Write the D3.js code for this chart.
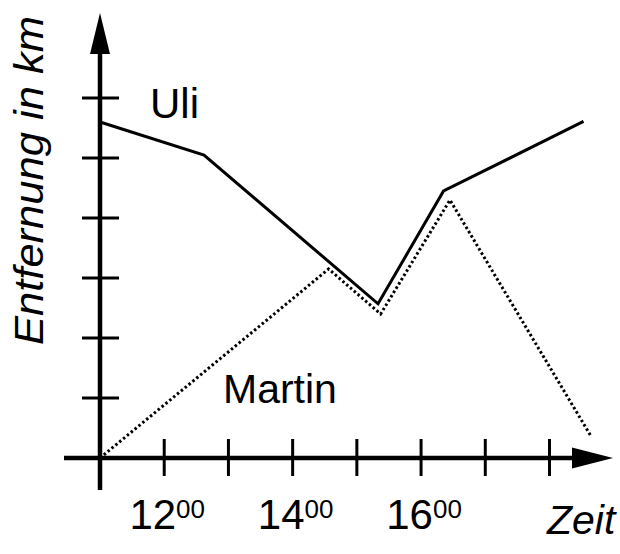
<!DOCTYPE html>
<html>
<head>
<meta charset="utf-8">
<script src="https://cdn.jsdelivr.net/npm/d3@7"></script>
<style>
  body { margin: 0; background: #fff; }
  text { font-family: "Liberation Sans", Arial, Helvetica, sans-serif; fill: #000; }
</style>
</head>
<body>
<svg id="chart" width="620" height="554"></svg>
<script>
// time in hours, distance in ticks
var uliTime = [11, 12.62, 15.33, 16.35, 18.53];
var uliDist = [5.6, 5.05, 2.57, 4.45, 5.61];
var martinTime = [11, 14.56, 15.37, 16.45, 18.64];
var martinDist = [0, 3.15, 2.4, 4.3, 0.375];
var xTicks = [12, 13, 14, 15, 16, 17, 18];
var yTicks = [1, 2, 3, 4, 5, 6];
var xLabels = [12, 14, 16];

var svg = d3.select("#chart");

var x = d3.scaleLinear().domain([11, 18]).range([100, 549.5]);
var y = d3.scaleLinear().domain([0, 6]).range([458, 98]);

var uli = uliTime.map(function (t, i) { return [t, uliDist[i]]; });
var martin = martinTime.map(function (t, i) { return [t, martinDist[i]]; });

// axes
svg.append("line")
  .attr("x1", 64).attr("x2", 575)
  .attr("y1", y(0)).attr("y2", y(0))
  .attr("stroke", "#000").attr("stroke-width", 4.5);
svg.append("line")
  .attr("x1", x(11)).attr("x2", x(11))
  .attr("y1", 490).attr("y2", 50)
  .attr("stroke", "#000").attr("stroke-width", 4.5);

// arrow heads
svg.append("path")
  .attr("d", "M572," + (y(0) - 10.5) + "L613," + y(0) + "L572," + (y(0) + 10.5) + "Z")
  .attr("fill", "#000");
svg.append("path")
  .attr("d", "M" + (x(11) - 10) + ",54L" + x(11) + ",13L" + (x(11) + 10) + ",54Z")
  .attr("fill", "#000");

// tick marks
svg.append("g").selectAll("line")
  .data(xTicks)
  .enter().append("line")
  .attr("x1", function (d) { return x(d); })
  .attr("x2", function (d) { return x(d); })
  .attr("y1", y(0) - 19).attr("y2", y(0) + 18)
  .attr("stroke", "#000").attr("stroke-width", 3);
svg.append("g").selectAll("line")
  .data(yTicks)
  .enter().append("line")
  .attr("x1", x(11) - 18).attr("x2", x(11) + 19)
  .attr("y1", function (d) { return y(d); })
  .attr("y2", function (d) { return y(d); })
  .attr("stroke", "#000").attr("stroke-width", 3);

// tick labels with superscript minutes
var lab = svg.append("g").selectAll("text")
  .data(xLabels)
  .enter().append("text")
  .attr("x", function (d) { return x(d) + 3; })
  .attr("y", 529)
  .attr("text-anchor", "middle")
  .style("font-size", "42px");
lab.append("tspan").text(function (d) { return d; });
lab.append("tspan").attr("dy", -11).style("font-size", "26px").text("00");

// lines
var line = d3.line()
  .x(function (d) { return x(d[0]); })
  .y(function (d) { return y(d[1]); });

svg.append("path")
  .datum(uli)
  .attr("d", line)
  .attr("fill", "none")
  .attr("stroke", "#000")
  .attr("stroke-width", 3);

svg.append("path")
  .datum(martin)
  .attr("d", line)
  .attr("fill", "none")
  .attr("stroke", "#000")
  .attr("stroke-width", 3)
  .attr("stroke-dasharray", "2.5,2.5");

// names
svg.append("text").attr("x", 150).attr("y", 118)
  .style("font-size", "42px").text("Uli");
svg.append("text").attr("x", 223).attr("y", 403)
  .style("font-size", "41px").text("Martin");

// axis titles
svg.append("text")
  .attr("x", 547).attr("y", 534)
  .style("font-size", "41px").style("font-style", "italic")
  .text("Zeit");
svg.append("text")
  .attr("transform", "translate(43,345) rotate(-90)")
  .attr("textLength", 329)
  .attr("lengthAdjust", "spacingAndGlyphs")
  .style("font-size", "41px").style("font-style", "italic")
  .text("Entfernung in km");
</script>
</body>
</html>
